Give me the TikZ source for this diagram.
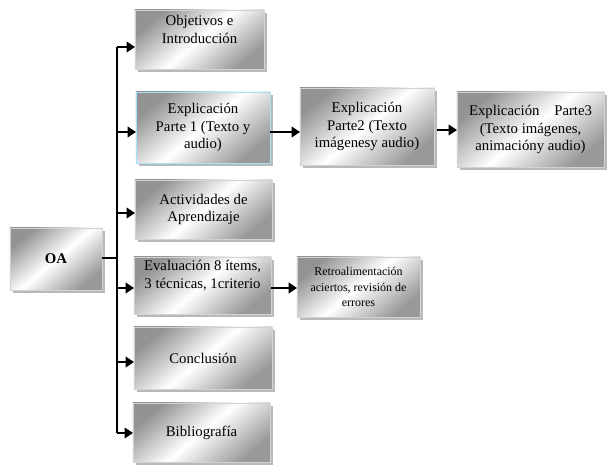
\documentclass[tikz,border=0pt]{standalone}
\usepackage{fontspec}
\setmainfont{Liberation Serif}
\usetikzlibrary{arrows.meta,shadows}

\begin{document}
\begin{tikzpicture}[x=0.025cm, y=-0.025cm,
  box/.style={draw=gray!35, line width=0.6pt, inner sep=0pt, outer sep=0pt,
    align=center, font=\fontsize{10.5}{12.5}\selectfont,
    top color=gray!85, bottom color=gray!80, middle color=white, shading angle=40,
    drop shadow={shadow xshift=2pt, shadow yshift=-2pt, fill=gray!55, opacity=1}},
  arr/.style={line width=1.5pt, -{Triangle[length=6pt,width=7.5pt]}},
  trunk/.style={line width=0.9pt}]

\useasboundingbox (0,0) rectangle (607,466);

% root
\node[box, minimum width=2.3cm, minimum height=1.55cm, font=\fontsize{10.5}{12.5}\selectfont\bfseries] (oa) at (56,259) {OA};

% main column
\node[box, minimum width=3.225cm, minimum height=1.475cm] (obj) at (199.5,39.5) {Objetivos e\\Introducción\\[2pt]};
\node[box, draw=cyan!35, minimum width=3.35cm, minimum height=1.775cm] (exp1) at (203,127.5) {Explicación\\Parte 1 (Texto y\\audio)};
\node[box, minimum width=3.425cm, minimum height=1.475cm] (act) at (203.5,209.5) {Actividades de\\Aprendizaje};
\node[box, minimum width=3.425cm, minimum height=1.425cm] (eva) at (202.5,285.5) {Evaluación 8 ítems,\\3 técnicas, 1criterio\\[3pt]};
\node[box, minimum width=3.45cm, minimum height=1.55cm] (con) at (203,358) {Conclusión};
\node[box, minimum width=3.425cm, minimum height=1.475cm] (bib) at (201.5,432.5) {Bibliografía};

% second level
\node[box, minimum width=3.35cm, minimum height=1.925cm] (exp2) at (367,126.5) {Explicación\\Parte2 (Texto\\imágenesy audio)};
\node[box, minimum width=3.675cm, minimum height=1.875cm] (exp3) at (530.5,129.5) {Explicación\quad Parte3\\(Texto imágenes,\\animacióny audio)};
\node[box, minimum width=3.075cm, minimum height=1.5cm, font=\fontsize{8.5}{11}\selectfont] (ret) at (358.5,287) {Retroalimentación\\aciertos, revisión de\\errores};

% trunk
\coordinate (t1) at (117,47);
\coordinate (t2) at (117,132);
\coordinate (t3) at (117,213);
\coordinate (t0) at (117,258);
\coordinate (t4) at (117,288);
\coordinate (t5) at (117,362);
\coordinate (t6) at (117,433);
\coordinate (s2) at (437,130);
\draw[trunk] (t1) -- (t6);
\draw[line width=1.5pt] (oa.east |- t0) -- (t0);

\foreach \t/\b in {t1/obj,t2/exp1,t3/act,t4/eva,t5/con,t6/bib}
  \draw[arr] (\t) -- (\t -| \b.west);

% side arrows
\draw[arr] (exp1.east |- t2) -- (t2 -| exp2.west);
\draw[arr] (s2) -- (s2 -| exp3.west);
\draw[arr] (eva.east |- t4) -- (t4 -| ret.west);

\end{tikzpicture}
\end{document}
